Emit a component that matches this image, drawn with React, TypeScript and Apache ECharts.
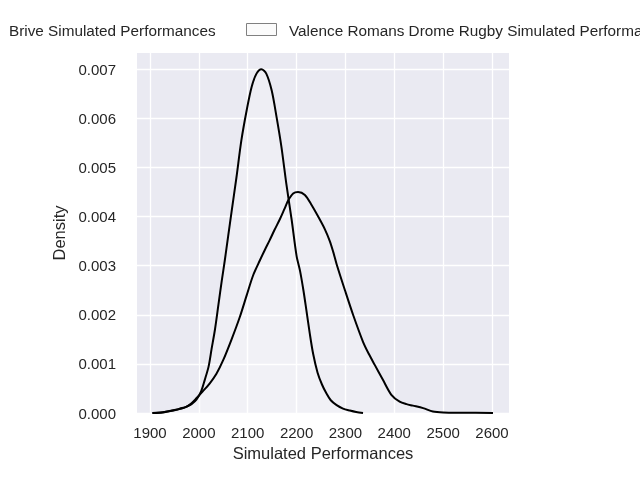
import React, { useEffect, useRef } from "react";
import * as echarts from "echarts";

const legendNames = ["Brive Simulated Performances", "Valence Romans Drome Rugby Simulated Performances"];

const briveX = [1905, 1926, 1940, 1955, 1965, 1975, 1985, 1995, 2005, 2012, 2020, 2026, 2033, 2040, 2047, 2053, 2060, 2067, 2077, 2087, 2098, 2108, 2118, 2128, 2138, 2149, 2159, 2169, 2179, 2190, 2200, 2207, 2214, 2220, 2227, 2234, 2243, 2252, 2261, 2270, 2282, 2295, 2309, 2322, 2336];
const briveY = [0, 0.00001, 0.00004, 0.00007, 0.00009, 0.00013, 0.00018, 0.00027, 0.00045, 0.00067, 0.00095, 0.0013, 0.0017, 0.0022, 0.0027, 0.0031, 0.0036, 0.0041, 0.0048, 0.00555, 0.00617, 0.00664, 0.00691, 0.007, 0.00691, 0.00657, 0.00603, 0.00542, 0.00467, 0.00393, 0.0032, 0.0029, 0.0025, 0.0021, 0.00162, 0.0012, 0.00082, 0.00058, 0.0004, 0.00026, 0.00016, 0.00009, 0.00005, 0.00002, 0];

const valenceX = [1905, 1930, 1948, 1962, 1975, 1985, 1995, 2008, 2022, 2036, 2050, 2067, 2084, 2098, 2111, 2125, 2135, 2145, 2155, 2166, 2175, 2183, 2193, 2203, 2217, 2231, 2247, 2258, 2268, 2275, 2282, 2299, 2316, 2336, 2348, 2360, 2377, 2394, 2411, 2425, 2438, 2459, 2479, 2500, 2540, 2602];
const valenceY = [0, 0.00002, 0.00005, 0.00009, 0.00013, 0.0002, 0.0003, 0.00044, 0.0006, 0.0008, 0.00108, 0.0015, 0.00196, 0.0024, 0.0028, 0.00311, 0.00332, 0.00352, 0.00373, 0.00395, 0.00415, 0.00433, 0.00447, 0.0045, 0.00444, 0.00423, 0.00395, 0.00374, 0.0035, 0.00328, 0.00303, 0.0025, 0.00199, 0.00145, 0.0012, 0.00098, 0.00067, 0.00037, 0.00023, 0.00018, 0.00015, 0.0001, 0.00003, 0.00001, 0.000005, 0];

const xTicks = [1900, 2000, 2100, 2200, 2300, 2400, 2500, 2600];
const yTicks = [0, 0.001, 0.002, 0.003, 0.004, 0.005, 0.006, 0.007];

const FONT = "Liberation Sans, Arial, sans-serif";
const TXT = "#262626";

export default function App() {
  const ref = useRef<HTMLDivElement>(null);
  useEffect(() => {
    if (!ref.current) return;
    const chart = echarts.init(ref.current, null, { renderer: "svg" });
    const mk = (xs: number[], ys: number[]) => xs.map((x, i) => [x, ys[i]]);
    const seriesBase = {
      type: "line",
      smooth: 0.3,
      showSymbol: false,
      symbol: "none",
      lineStyle: { color: "#000", width: 2, join: "round" },
      areaStyle: { color: "rgba(255,255,255,0.3)" },
      clip: false,
    };
    chart.setOption({
      animation: false,
      textStyle: { fontFamily: FONT },
      grid: { left: 137, top: 53, width: 372, height: 360, show: true, backgroundColor: "#eaeaf2", borderWidth: 0 },
      xAxis: {
        type: "value",
        min: 1873.4,
        max: 2634.8,
        name: "Simulated Performances",
        nameLocation: "middle",
        nameGap: 31,
        nameTextStyle: { color: TXT, fontSize: 16.5, fontFamily: FONT },
        axisLine: { show: false },
        axisTick: { show: false, customValues: xTicks },
        axisLabel: { customValues: xTicks, color: TXT, fontSize: 15, fontFamily: FONT, margin: 12, formatter: (v: number) => String(v) },
        splitLine: { show: true, lineStyle: { color: "#fff", width: 1.3 } },
      },
      yAxis: {
        type: "value",
        min: 0,
        max: 0.00733,
        name: "Density",
        nameLocation: "middle",
        nameGap: 63,
        nameTextStyle: { color: TXT, fontSize: 16.5, fontFamily: FONT },
        axisLine: { show: false },
        axisTick: { show: false, customValues: yTicks },
        axisLabel: { customValues: yTicks, color: TXT, fontSize: 15, fontFamily: FONT, margin: 21, formatter: (v: number) => v.toFixed(3) },
        splitLine: { show: true, lineStyle: { color: "#fff", width: 1.3 } },
      },
      series: [
        { ...seriesBase, name: legendNames[0], data: mk(briveX, briveY) },
        { ...seriesBase, name: legendNames[1], data: mk(valenceX, valenceY) },
      ],
      graphic: [
        { type: "rect", shape: { x: -34, y: 23, width: 30, height: 12 }, style: { fill: "#fbfbfb", stroke: "#808080", lineWidth: 1 } },
        { type: "text", x: 9, y: 30, style: { text: legendNames[0], fill: TXT, font: `15.3px ${FONT}`, verticalAlign: "middle" } },
        { type: "rect", shape: { x: 246.5, y: 23.5, width: 30, height: 12 }, style: { fill: "#fbfbfb", stroke: "#808080", lineWidth: 1 } },
        { type: "text", x: 289, y: 30, style: { text: legendNames[1], fill: TXT, font: `15.3px ${FONT}`, verticalAlign: "middle" } },
      ],
    });
    return () => chart.dispose();
  }, []);
  return <div ref={ref} style={{ position: "fixed", left: 0, top: 0, width: 640, height: 480 }} />;
}
